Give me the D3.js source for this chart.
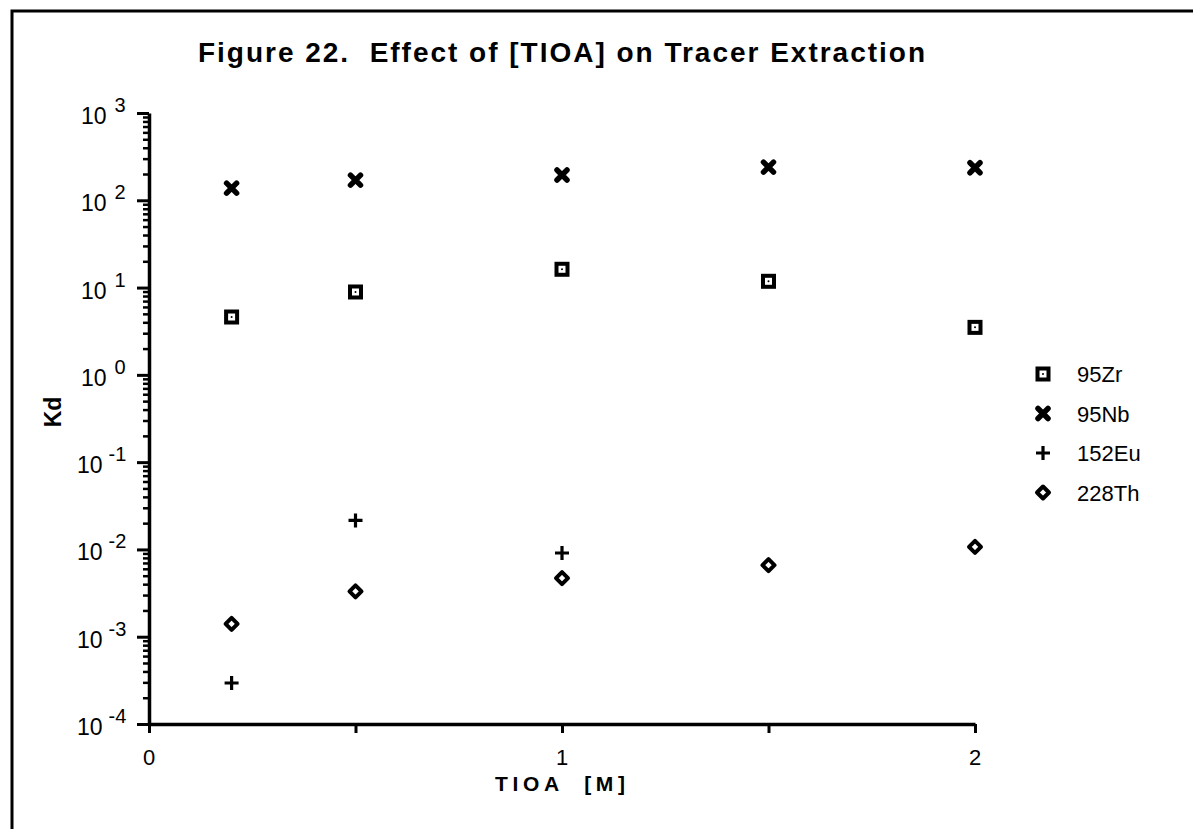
<!DOCTYPE html>
<html>
<head>
<meta charset="utf-8">
<script src="https://cdn.jsdelivr.net/npm/d3@7"></script>
<style>
  body { margin: 0; background: #fff; }
  svg { font-family: "Liberation Sans", Arial, sans-serif; }
</style>
</head>
<body>
<div id="chart"></div>
<script>
// data
var tioa = [0.2, 0.5, 1, 1.5, 2];
var zr95 = [4.6, 8.9, 16.2, 11.8, 3.5];
var nb95 = [138, 170, 195, 240, 236];
var eu152 = [0.000295, 0.0215, 0.0091];
var eu152x = [0.2, 0.5, 1];
var th228 = [0.0014, 0.0033, 0.0047, 0.0066, 0.0107];
var seriesNames = ["95Zr", "95Nb", "152Eu", "228Th"];
var yDecades = [-4, -3, -2, -1, 0, 1, 2, 3];
var xTicks = [0, 0.5, 1, 1.5, 2];
var xLabels = [0, 1, 2];

var W = 1193, H = 829;
var margin = {top: 113, left: 149};
var plotW = 975 - 149, plotH = 724 - 113;

var svg = d3.select("#chart").append("svg")
    .attr("width", W).attr("height", H);

// frame (left + top edges of the scanned page box)
svg.append("path")
    .attr("d", "M12,829 L12,11 L1193,11")
    .attr("fill", "none").attr("stroke", "#000").attr("stroke-width", 3);

svg.append("text")
    .attr("x", 198).attr("y", 62)
    .attr("font-size", 28).attr("font-weight", "bold")
    .attr("textLength", 727).attr("lengthAdjust", "spacing")
    .attr("xml:space", "preserve")
    .text("Figure 22.  Effect of [TIOA] on Tracer Extraction");

var g = svg.append("g").attr("transform", `translate(${margin.left},${margin.top})`);

var x = d3.scaleLinear().domain([0, 2]).range([0, plotW]);
var y = d3.scaleLog().domain([1e-4, 1e3]).range([plotH, 0]);

// minor y ticks
var minor = [];
yDecades.slice(0, -1).forEach(function(p) {
    for (var k = 2; k <= 9; k++) minor.push(k * Math.pow(10, p));
});

g.append("g")
    .call(d3.axisLeft(y).tickValues(minor).tickSize(6).tickSizeOuter(0).tickFormat(""))
    .call(a => a.select(".domain").remove())
    .selectAll("line").attr("stroke-width", 2.5);

g.append("g")
    .call(d3.axisLeft(y).tickValues(yDecades.map(p => Math.pow(10, p))).tickSize(12).tickSizeOuter(0).tickFormat(""))
    .call(a => a.select(".domain").attr("stroke-width", 3.5))
    .selectAll("line").attr("stroke-width", 3);

// y labels: 10 with superscript exponent
var ylab = g.append("g");
yDecades.forEach(function(p) {
    var t = ylab.append("text")
        .attr("x", p < 0 ? -72 : -68).attr("y", y(Math.pow(10, p)) + 11)
        .attr("font-size", 23);
    t.append("tspan").text("10");
    t.append("tspan").attr("dx", p < 0 ? 6 : 8).attr("dy", -12).attr("font-size", 20).text(p);
});

// x axis
g.append("g")
    .attr("transform", `translate(0,${plotH})`)
    .call(d3.axisBottom(x).tickValues(xTicks).tickSize(9).tickSizeOuter(0).tickFormat(""))
    .call(a => a.select(".domain").attr("stroke-width", 3.5))
    .selectAll("line").attr("stroke-width", 3);

g.append("g").selectAll("text").data(xLabels).join("text")
    .attr("x", d => x(d)).attr("y", plotH + 41)
    .attr("text-anchor", "middle").attr("font-size", 22)
    .text(d => d);

svg.append("text")
    .attr("x", 495).attr("y", 791)
    .attr("font-size", 21).attr("font-weight", "bold")
    .attr("textLength", 130).attr("lengthAdjust", "spacing")
    .attr("xml:space", "preserve")
    .text("TIOA  [M]");

svg.append("text")
    .attr("transform", "translate(61,412) rotate(-90)")
    .attr("text-anchor", "middle")
    .attr("font-size", 23).attr("font-weight", "bold")
    .text("Kd");

// marker shapes
var markers = {
    "95Zr": function(sel) {
        sel.append("rect").attr("x", -5.5).attr("y", -5.5).attr("width", 11).attr("height", 11)
            .attr("fill", "#fff").attr("stroke", "#000").attr("stroke-width", 4);
        sel.append("circle").attr("r", 1).attr("fill", "#000");
    },
    "95Nb": function(sel) {
        sel.append("path").attr("d", "M-5,-5L5,5M5,-5L-5,5")
            .attr("stroke", "#000").attr("stroke-width", 5.5).attr("stroke-linecap", "round");
    },
    "152Eu": function(sel) {
        sel.append("path").attr("d", "M-7,0L7,0M0,-7L0,7")
            .attr("stroke", "#000").attr("stroke-width", 3.2);
    },
    "228Th": function(sel) {
        sel.append("path").attr("d", "M0,-6L6,0L0,6L-6,0Z")
            .attr("fill", "#fff").attr("stroke", "#000").attr("stroke-width", 4)
            .attr("stroke-linejoin", "round");
    }
};

var series = [
    {name: "95Zr", xs: tioa, ys: zr95},
    {name: "95Nb", xs: tioa, ys: nb95},
    {name: "152Eu", xs: eu152x, ys: eu152},
    {name: "228Th", xs: tioa, ys: th228}
];

series.forEach(function(s) {
    s.ys.forEach(function(v, i) {
        var m = g.append("g").attr("transform", `translate(${x(s.xs[i])},${y(v)})`);
        markers[s.name](m);
    });
});

// legend
var leg = svg.append("g").attr("transform", "translate(1043,374)");
seriesNames.forEach(function(n, i) {
    var row = leg.append("g").attr("transform", `translate(0,${i * 39.5})`);
    markers[n](row);
    row.append("text").attr("x", 34).attr("y", 8).attr("font-size", 22).text(n);
});
</script>
</body>
</html>
